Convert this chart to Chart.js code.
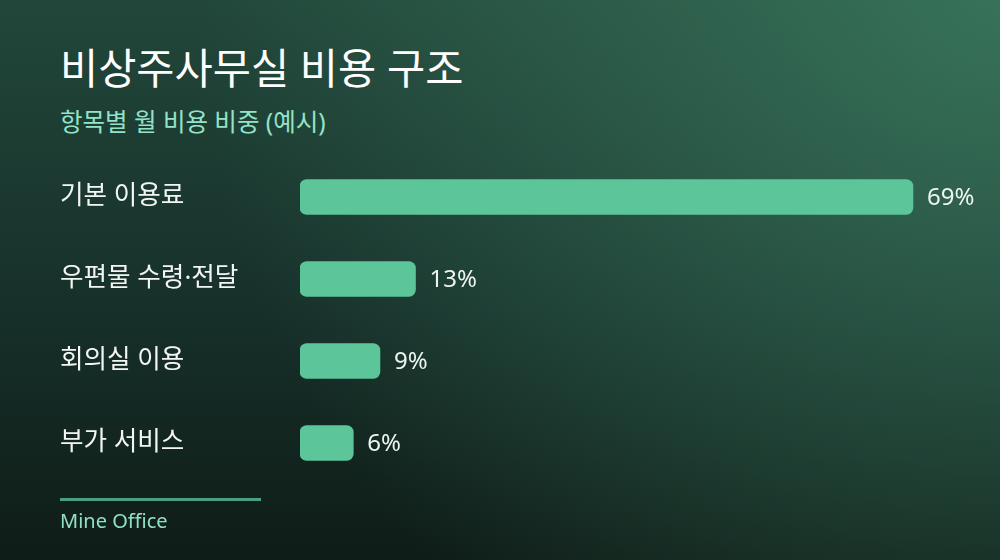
<!DOCTYPE html>
<html lang="ko">
<head>
<meta charset="utf-8">
<script src="https://cdn.jsdelivr.net/npm/chart.js@4/dist/chart.umd.min.js"></script>
<style>
  html, body { margin: 0; padding: 0; }
  body {
    width: 1000px; height: 560px; overflow: hidden; position: relative;
    font-family: "Noto Sans", "Noto Sans CJK KR", sans-serif;
    background:
      radial-gradient(circle at 100% 0%, rgba(62,128,100,0.75) 0%, rgba(62,128,100,0) 70%),
      linear-gradient(180deg, #22473a 0%, #17302a 55%, #0f1c17 100%);
  }
  #title { position: absolute; left: 60px; top: 36px; font-size: 41.5px; font-weight: 400; color: #ffffff; }
  #subtitle { position: absolute; left: 60px; top: 103px; font-size: 24.5px; color: #93e3c9; }
  #rule { position: absolute; left: 60px; top: 498px; width: 201px; height: 3px; background: #4a9f7f; }
  #source { position: absolute; left: 60px; top: 507px; font-size: 20px; color: #8fe0c6; }
  #wrap { position: absolute; left: 0; top: 0; width: 1000px; height: 560px; }
</style>
</head>
<body>
<div id="title">비상주사무실 비용 구조</div>
<div id="subtitle">항목별 월 비용 비중 (예시)</div>
<div id="wrap"><canvas id="costChart"></canvas></div>
<div id="rule"></div>
<div id="source">Mine Office</div>
<script>
const categories = ['기본 이용료', '우편물 수령·전달', '회의실 이용', '부가 서비스'];
const shares = [69, 13, 9, 6];

// value labels to the right of each bar
const valueLabels = {
    id: 'valueLabels',
    afterDatasetsDraw(chart) {
        const ctx = chart.ctx;
        const meta = chart.getDatasetMeta(0);
        ctx.save();
        ctx.font = '24px "Noto Sans", "Noto Sans CJK KR", sans-serif';
        ctx.fillStyle = '#eef5f1';
        ctx.textAlign = 'left';
        ctx.textBaseline = 'middle';
        meta.data.forEach((bar, i) => {
            ctx.fillText(shares[i] + '%', bar.x + 14, bar.y + 1);
        });
        ctx.restore();
    }
};

let costChart = new Chart(document.getElementById('costChart').getContext('2d'), {
    type: 'bar',
    data: {
        labels: categories,
        datasets: [{
            data: shares,
            backgroundColor: '#5cc69a',
            borderWidth: 0,
            borderRadius: 7,
            borderSkipped: false,
            barThickness: 35
        }]
    },
    options: {
        indexAxis: 'y',
        responsive: true,
        maintainAspectRatio: false,
        animation: false,
        layout: { padding: { left: 60, right: 0, top: 156, bottom: 76 } },
        plugins: {
            legend: { display: false },
            tooltip: { enabled: false }
        },
        scales: {
            x: {
                display: false,
                min: 0,
                max: 78.8
            },
            y: {
                grid: { display: false, drawTicks: false },
                border: { display: false },
                afterFit(scale) { scale.width = 240; },
                ticks: {
                    crossAlign: 'far',
                    padding: 0,
                    color: '#f2f5f3',
                    font: { size: 25.6, family: '"Noto Sans", "Noto Sans CJK KR", sans-serif' }
                }
            }
        }
    },
    plugins: [valueLabels]
});
</script>
</body>
</html>
